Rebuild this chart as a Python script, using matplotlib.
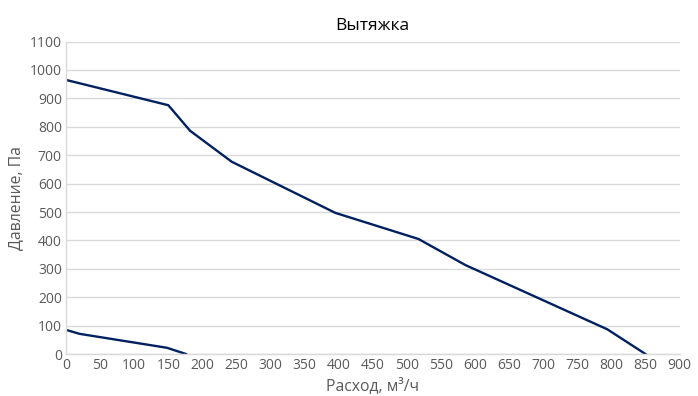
import matplotlib
matplotlib.use("Agg")
import matplotlib.pyplot as plt

plt.rcParams['font.family'] = ['Open Sans', 'DejaVu Sans']

# fan curve, upper branch
flow_hi = [0, 150, 182, 243, 395, 517, 586, 794, 850]
press_hi = [965, 876, 786, 677, 497, 405, 313, 87, 0]

# lower branch
flow_lo = [0, 20, 148, 176]
press_lo = [85, 71, 22, 0]

xticks = list(range(0, 901, 50))
yticks = list(range(0, 1101, 100))

navy = '#002060'
grey = '#595959'

fig = plt.figure(figsize=(6.98, 3.96), dpi=100)
ax = fig.add_axes([0.0946, 0.106, 0.879, 0.789])

ax.plot(flow_hi, press_hi, color=navy, lw=1.7, solid_joinstyle='miter')
ax.plot(flow_lo, press_lo, color=navy, lw=1.7)

ax.set_xlim(0, 900)
ax.set_ylim(0, 1100)
ax.set_xticks(xticks)
ax.set_yticks(yticks)
ax.tick_params(length=0, labelsize=10, labelcolor=grey, pad=3)
ax.grid(axis='y', color='#d9d9d9', lw=1)
ax.set_axisbelow(True)
for s in ['top', 'right']:
    ax.spines[s].set_visible(False)
for s in ['left', 'bottom']:
    ax.spines[s].set_color('#d9d9d9')
    ax.spines[s].set_linewidth(1)

ax.set_title('Вытяжка', fontsize=12.5, color='black', pad=8)
ax.set_xlabel('Расход, м³/ч', fontsize=11.3, color=grey, labelpad=3)
ax.set_ylabel('Давление, Па', fontsize=11.3, color=grey, labelpad=4)

fig.savefig('out.png', dpi=100)
